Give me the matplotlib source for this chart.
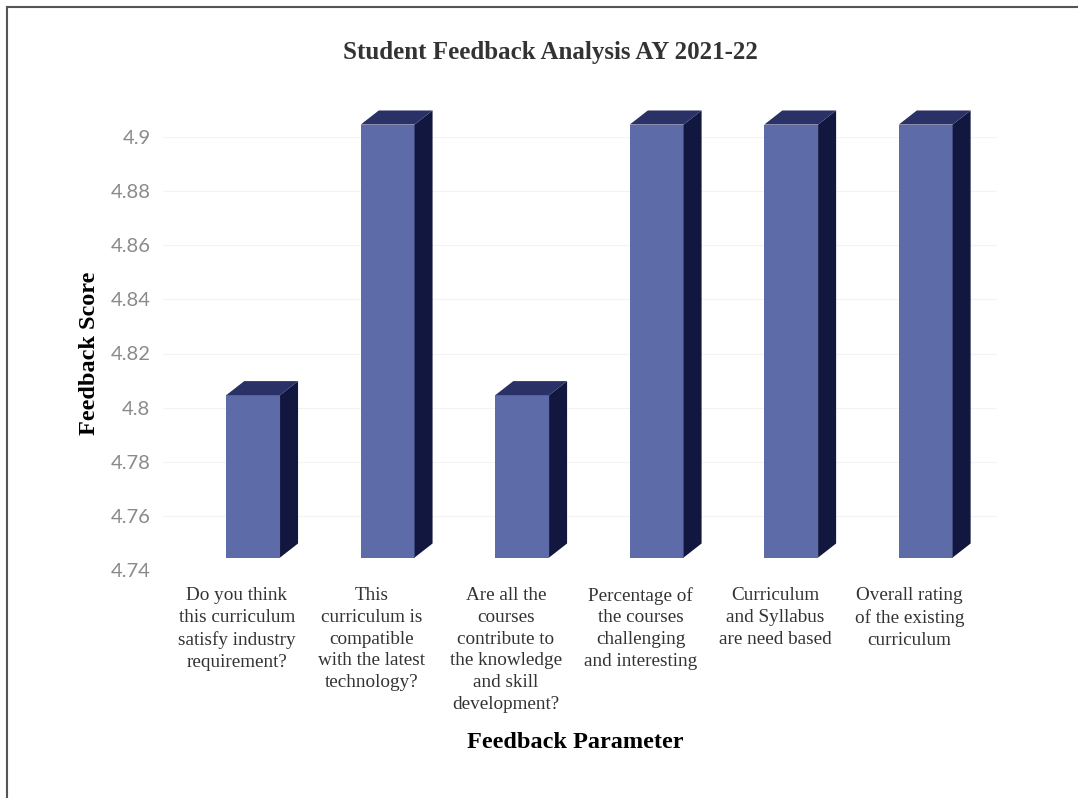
import matplotlib.pyplot as plt
from matplotlib.patches import Polygon, Rectangle
from matplotlib.lines import Line2D

categories = [
    "Do you think\nthis curriculum\nsatisfy industry\nrequirement?",
    "This\ncurriculum is\ncompatible\nwith the latest\ntechnology?",
    "Are all the\ncourses\ncontribute to\nthe knowledge\nand skill\ndevelopment?",
    "Percentage of\nthe courses\nchallenging\nand interesting",
    "Curriculum\nand Syllabus\nare need based",
    "Overall rating\nof the existing\ncurriculum",
]
scores = [4.8, 4.9, 4.8, 4.9, 4.9, 4.9]
yticks = [4.74, 4.76, 4.78, 4.80, 4.82, 4.84, 4.86, 4.88, 4.90]
ytick_labels = ["4.74", "4.76", "4.78", "4.8", "4.82", "4.84", "4.86", "4.88", "4.9"]
base = 4.74

W, H = 1078, 798
fig = plt.figure(figsize=(W / 100, H / 100), dpi=100)
ax = fig.add_axes([163 / W, 1 - 570 / H, (997 - 163) / W, (570 - 137) / H])
ax.set_xlim(-0.55, 5.65)
ax.set_ylim(4.74, 4.90)

# 3d look (data units)
shift = 0.12      # bar front centre vs category label
bw = 0.40         # front face width
dx = 0.134        # depth to the right
dy = 0.0052       # depth upward
lift = 0.0046     # front face lifted above the floor line

front_c = "#5d6ba9"
side_c = "#12173f"
top_c = "#2a3166"

for yv in yticks:
    ax.axhline(yv, color="#f3f3f3", lw=0.8, zorder=0)

for i, v in enumerate(scores):
    xl = i + shift - bw / 2
    xr = xl + bw
    b = base + lift
    t = v + lift
    ax.add_patch(Rectangle((xl, b), bw, t - b, facecolor=front_c, edgecolor="none",
                           clip_on=False, zorder=3))
    ax.add_patch(Polygon([(xr, b), (xr, t), (xr + dx, t + dy), (xr + dx, b + dy)],
                         closed=True, facecolor=side_c, edgecolor="none", clip_on=False, zorder=3))
    ax.add_patch(Polygon([(xl, t), (xr, t), (xr + dx, t + dy), (xl + dx, t + dy)],
                         closed=True, facecolor=top_c, edgecolor="none", clip_on=False, zorder=3))

ax.set_yticks(yticks)
ax.set_yticklabels(ytick_labels, fontsize=14.5, color="#8a8a8a", family="Lato")
ax.set_xticks(range(len(categories)))
ax.set_xticklabels(categories, fontsize=13.8, family="Liberation Serif", color="#333333",
                   linespacing=1.38, va="top")
ax.tick_params(axis="both", length=0)
ax.tick_params(axis="x", pad=12)
ax.tick_params(axis="y", pad=9)
for s in ax.spines.values():
    s.set_visible(False)

ax.set_ylabel("Feedback Score", fontsize=17.5, fontweight="bold", family="Liberation Serif")
ax.yaxis.set_label_coords(-0.075, 0.5)
fig.text(575 / W, 1 - 743 / H, "Feedback Parameter", ha="center", va="center",
         fontsize=17.5, fontweight="bold", family="Liberation Serif")
fig.text(550 / W, 1 - 52 / H, "Student Feedback Analysis AY 2021-22", ha="center", va="center",
         fontsize=18, fontweight="bold", family="Liberation Serif", color="#333333")

# outer frame of the scanned chart
fig.add_artist(Line2D([7 / W, 7 / W], [0, 1 - 7 / H], color="#555555", lw=1.5))
fig.add_artist(Line2D([7 / W, 1], [1 - 7 / H, 1 - 7 / H], color="#555555", lw=1.5))

fig.savefig("out.png", dpi=100)
